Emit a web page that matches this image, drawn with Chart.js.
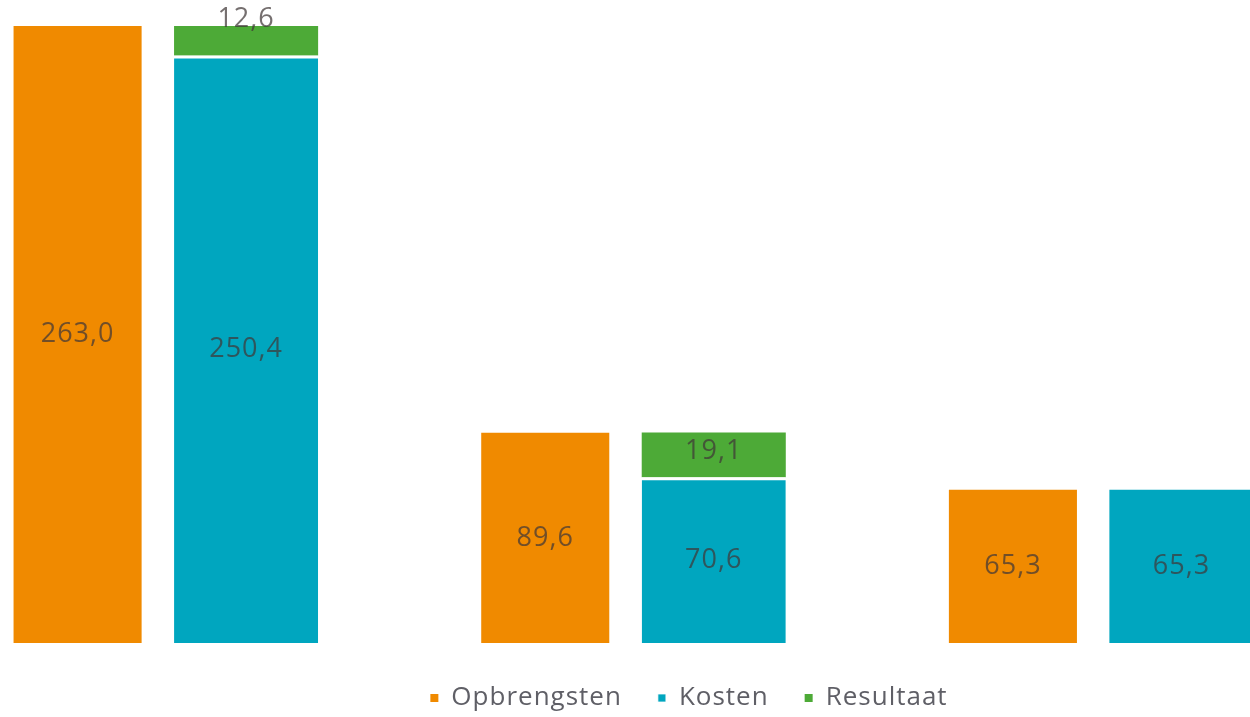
<!DOCTYPE html>
<html>
<head>
<meta charset="utf-8">
<script src="https://cdn.jsdelivr.net/npm/chart.js@4/dist/chart.umd.min.js"></script>
<style>
  html, body { margin: 0; padding: 0; background: #fff; overflow: hidden; }
  #wrap { position: absolute; left: -72px; top: 0; width: 1522px; height: 717px; }
</style>
</head>
<body>
<div id="wrap"><canvas id="chart" width="1522" height="717"></canvas></div>
<script>
var categories = ['Groep 1', 'Groep 2', 'Groep 3'];
var opbrengsten = [263.0, 89.6, 65.3];
var kosten = [250.4, 70.6, 65.3];
var resultaat = [12.6, 19.1, null];

var fontFamily = '"Open Sans", "Noto Sans", sans-serif';

// wat ruimere letters, zoals in het origineel
var spacing = {
    id: 'spacing',
    beforeLayout: function(chart) { chart.ctx.letterSpacing = '1px'; },
    beforeDraw: function(chart) { chart.ctx.letterSpacing = '1px'; }
};

// waarden in de balken, met komma als decimaalteken
var barLabels = {
    id: 'barLabels',
    afterDatasetsDraw: function(chart) {
        var ctx = chart.ctx;
        ctx.save();
        ctx.font = '27px ' + fontFamily;
        ctx.textAlign = 'center';
        ctx.textBaseline = 'middle';
        ctx.fillStyle = 'rgba(64,56,56,0.72)';
        chart.data.datasets.forEach(function(ds, di) {
            var meta = chart.getDatasetMeta(di);
            meta.data.forEach(function(bar, i) {
                var v = ds.data[i];
                if (v === null || v === undefined) return;
                var p = bar.getProps(['x', 'y', 'base'], true);
                var h = Math.abs(p.base - p.y);
                var y = (p.y + p.base) / 2;
                if (ds.label === 'Resultaat') {
                    y = h < 35 ? p.y - 7 : y - 4;
                }
                ctx.fillText(v.toFixed(1).replace('.', ','), p.x, y);
            });
        });
        ctx.restore();
    }
};

new Chart(document.getElementById('chart'), {
    type: 'bar',
    data: {
        labels: categories,
        datasets: [
            {
                label: 'Opbrengsten',
                data: opbrengsten,
                backgroundColor: '#F08A00',
                stack: 'o',
                barPercentage: 0.76
            },
            {
                label: 'Kosten',
                data: kosten,
                backgroundColor: '#00A6BF',
                borderColor: '#ffffff',
                borderWidth: function(c) {
                    return resultaat[c.dataIndex] ? { top: 3, left: 0, right: 0, bottom: 0 } : 0;
                },
                borderSkipped: false,
                stack: 'k',
                barPercentage: 0.855
            },
            {
                label: 'Resultaat',
                data: resultaat,
                backgroundColor: '#4DAA37',
                stack: 'k',
                barPercentage: 0.855
            }
        ]
    },
    options: {
        responsive: false,
        animation: false,
        categoryPercentage: 0.7206,
        layout: { padding: { top: 26, left: 0, right: 0, bottom: -4 } },
        scales: {
            x: {
                stacked: true,
                grid: { display: false },
                border: { display: false },
                ticks: { display: false },
                afterFit: function(s) { s.height = 6; }
            },
            y: {
                stacked: true,
                position: 'right',
                min: 0,
                max: 263,
                grid: { display: false },
                border: { display: false },
                ticks: { display: false },
                afterFit: function(s) { s.width = 119; }
            }
        },
        plugins: {
            tooltip: { enabled: false },
            legend: {
                position: 'bottom',
                labels: {
                    boxWidth: 8,
                    boxHeight: 8,
                    padding: 36,
                    color: '#5f5f66',
                    font: { family: fontFamily, size: 26 }
                }
            }
        }
    },
    plugins: [spacing, barLabels]
});
</script>
</body>
</html>
